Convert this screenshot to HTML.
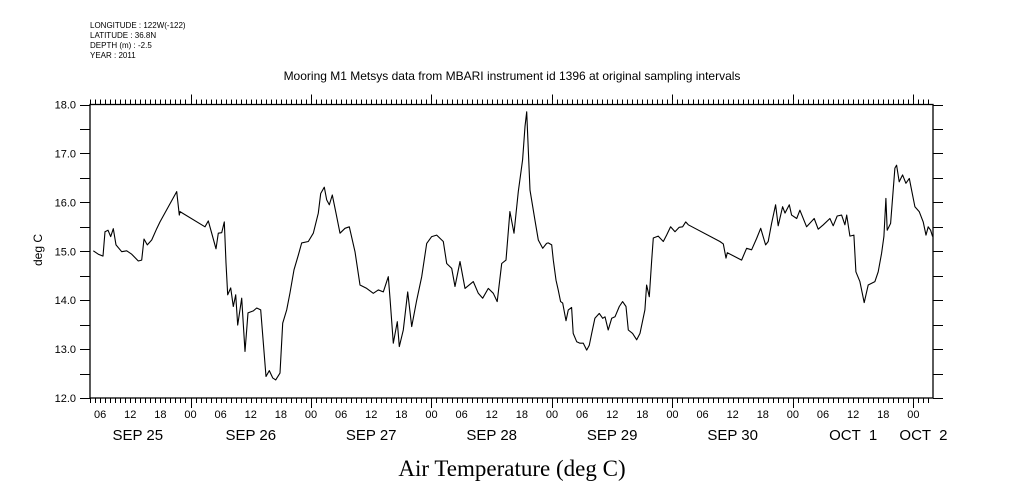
<!DOCTYPE html>
<html><head><meta charset="utf-8"><style>
body{margin:0;background:#fff;width:1009px;height:504px;overflow:hidden}
svg{display:block}
text{font-family:"Liberation Sans",sans-serif;fill:#000}
</style></head><body>
<svg id="chart" width="1009" height="504" viewBox="0 0 1009 504">
<g font-size="8">
<text x="90" y="28">LONGITUDE : 122W(-122)</text>
<text x="90" y="38">LATITUDE : 36.8N</text>
<text x="90" y="48">DEPTH (m) : -2.5</text>
<text x="90" y="58">YEAR : 2011</text>
</g>
<text x="512" y="80" text-anchor="middle" font-size="12">Mooring M1 Metsys data from MBARI instrument id 1396 at original sampling intervals</text>
<text transform="translate(42,250) rotate(-90)" text-anchor="middle" font-size="12">deg C</text>
<text x="512" y="476" text-anchor="middle" font-size="23" style="font-family:'Liberation Serif',serif">Air Temperature (deg C)</text>
<g id="axes"></g>
<g id="series"></g>
</svg>
<script>
const hours=[4.64,5.64,6.57,6.97,7.57,8.11,8.62,9.16,10.30,11.29,12.29,13.60,14.28,14.74,15.40,16.27,17.27,17.93,21.25,21.77,21.91,26.89,27.55,28.22,29.08,29.54,30.21,30.73,31.07,31.41,32.01,32.52,33.00,33.40,34.20,34.85,35.45,36.51,37.18,37.98,39.04,39.69,40.37,40.97,41.83,42.36,43.16,43.82,44.61,45.47,46.15,47.46,48.46,49.45,49.93,50.65,51.13,51.64,52.24,52.98,53.78,54.77,55.63,56.76,57.76,59.09,60.41,61.40,62.40,63.40,63.73,64.39,65.19,65.59,66.38,67.26,68.06,69.05,70.05,71.04,72.04,73.04,74.35,75.03,76.02,76.68,77.68,78.67,80.33,81.32,82.20,83.31,84.31,85.10,85.98,86.84,87.63,88.43,89.29,90.16,90.62,90.96,91.62,92.61,93.27,94.15,94.94,95.26,95.94,96.26,96.80,97.25,97.73,98.13,98.79,99.25,99.92,100.24,100.92,101.58,102.24,102.91,103.43,103.91,104.56,105.42,106.10,106.56,107.21,107.89,108.55,109.41,110.08,110.74,111.20,112.07,112.87,113.53,114.52,114.86,115.38,115.86,116.18,117.17,118.17,118.84,119.64,120.50,121.35,122.03,122.63,123.15,129.46,130.12,130.66,130.92,133.78,134.78,135.77,136.77,137.57,138.56,139.08,139.76,140.55,141.07,141.95,142.41,143.27,143.74,144.74,145.39,146.73,148.24,149.04,150.04,151.37,152.03,152.82,153.70,154.36,154.70,155.35,156.15,156.55,157.34,158.20,159.00,160.33,160.99,161.67,162.12,162.52,162.78,163.46,164.31,164.65,165.17,165.85,166.51,167.17,167.64,168.30,169.16,169.95,170.50,170.95,171.43,171.83];
const temps=[15.01,14.94,14.90,15.40,15.43,15.30,15.46,15.13,14.99,15.01,14.94,14.80,14.82,15.25,15.13,15.23,15.46,15.60,16.22,15.74,15.81,15.50,15.62,15.37,15.05,15.37,15.38,15.60,14.76,14.11,14.25,13.87,14.11,13.49,14.04,12.95,13.74,13.78,13.84,13.80,12.44,12.56,12.41,12.37,12.51,13.53,13.80,14.15,14.62,14.92,15.17,15.20,15.37,15.78,16.18,16.31,16.05,15.95,16.15,15.78,15.37,15.47,15.50,14.99,14.31,14.24,14.14,14.21,14.17,14.48,14.04,13.12,13.56,13.05,13.39,14.17,13.46,14.00,14.48,15.16,15.30,15.33,15.20,14.75,14.65,14.28,14.79,14.24,14.38,14.14,14.04,14.24,14.14,13.97,14.75,14.82,15.81,15.37,16.22,16.87,17.55,17.85,16.25,15.64,15.23,15.06,15.16,15.17,15.13,14.82,14.41,14.21,13.97,13.94,13.58,13.80,13.85,13.32,13.15,13.12,13.12,12.98,13.08,13.32,13.63,13.73,13.63,13.66,13.39,13.63,13.66,13.87,13.97,13.87,13.39,13.32,13.19,13.32,13.80,14.31,14.07,14.82,15.27,15.31,15.20,15.33,15.50,15.40,15.49,15.50,15.60,15.54,15.20,15.15,14.86,14.97,14.82,15.06,15.03,15.26,15.47,15.13,15.20,15.57,15.95,15.52,15.91,15.78,15.95,15.74,15.67,15.84,15.50,15.67,15.45,15.54,15.67,15.52,15.72,15.74,15.54,15.74,15.31,15.33,14.58,14.38,13.95,14.31,14.38,14.58,14.96,15.30,16.08,15.43,15.57,16.70,16.76,16.42,16.56,16.39,16.49,16.25,15.91,15.81,15.60,15.33,15.50,15.43,15.30];
const yTicks=[12.0,13.0,14.0,15.0,16.0,17.0,18.0];
const hourLabels=["06","12","18","00","06","12","18","00","06","12","18","00","06","12","18","00","06","12","18","00","06","12","18","00","06","12","18","00"];
const dateLabels=["SEP 25","SEP 26","SEP 27","SEP 28","SEP 29","SEP 30","OCT  1","OCT  2"];
const dateLabelHours=[13.5,36,60,84,108,132,156,170];

const X0=90,X1=933,Y0=104.5,Y1=398;
const H0=3.98,H1=171.9,T0=12,T1=18;
function xs(h){return X0+(h-H0)/(H1-H0)*(X1-X0);}
function ys(t){return Y1-(t-T0)/(T1-T0)*(Y1-Y0);}
const NS="http://www.w3.org/2000/svg";
const axes=document.getElementById('axes');
const series=document.getElementById('series');
function mk(tag,attrs,parent){const e=document.createElementNS(NS,tag);for(const k in attrs)e.setAttribute(k,attrs[k]);parent.appendChild(e);return e;}

const frame=mk('rect',{x:X0,y:Y0,width:X1-X0,height:Y1-Y0,fill:'none',stroke:'#000','stroke-width':1.3},axes);



let tp='';
for(let h=Math.ceil(H0);h<=H1;h++){
  const x=Math.round(xs(h))+0.5;const L=(h%24===0)?10:5;
  tp+=`M${x} ${Y0}V${Y0-L}M${x} ${Y1}V${Y1+L}`;
}
for(let t=12;t<=18;t+=0.5){
  const y=Math.round(ys(t))+0.5;
  tp+=`M${X0} ${y}H${X0-10}M${X1} ${y}H${X1+10}`;
}
const tk=mk('path',{d:tp,stroke:'#000','stroke-width':1,fill:'none'},axes);



yTicks.forEach(v=>{
  const t=mk('text',{x:76,y:ys(v)+4,'text-anchor':'end','font-size':11},axes);
  t.textContent=v.toFixed(1);
  
  
});
hourLabels.forEach((s,i)=>{
  const h=6+i*6;
  const t=mk('text',{x:xs(h),y:418,'text-anchor':'middle','font-size':11},axes);
  t.textContent=s;
  
  
});
dateLabels.forEach((s,i)=>{
  const t=mk('text',{x:xs(dateLabelHours[i]),y:440,'text-anchor':'middle','font-size':15,'xml:space':'preserve'},axes);
  t.style.whiteSpace='pre';
  t.textContent=s;
  
  
});

const pts=hours.map((h,i)=>xs(h).toFixed(1)+','+ys(temps[i]).toFixed(1)).join(' ');
const line=mk('polyline',{points:pts,fill:'none',stroke:'#000','stroke-width':1.1,'stroke-linejoin':'round'},series);


</script>
</body></html>
